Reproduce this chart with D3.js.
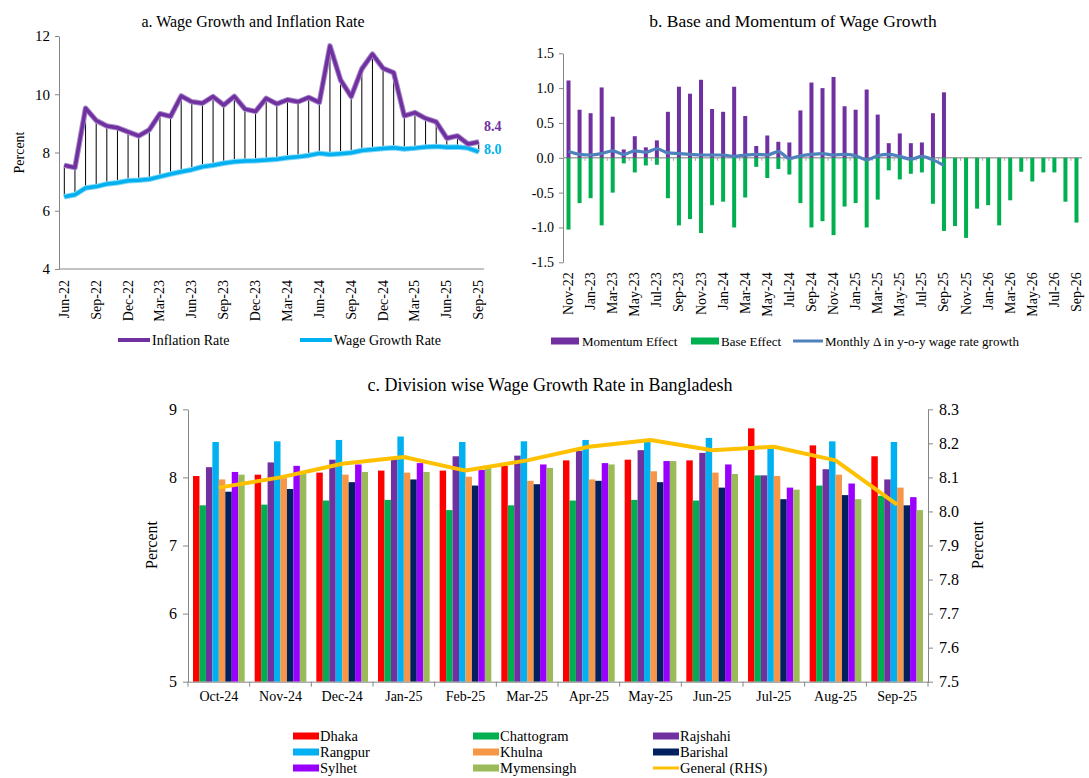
<!DOCTYPE html>
<html>
<head>
<meta charset="utf-8">
<script src="https://cdn.jsdelivr.net/npm/d3@7"></script>
<style>
  body { margin: 0; background: #fff; }
  svg text { font-family: "Liberation Serif", "Times New Roman", serif; fill: #000; }
</style>
</head>
<body>
<svg id="chart" width="1089" height="778"></svg>
<script>
// ---------- Panel a: wage growth vs inflation (Jun-22 .. Sep-25) ----------
const monthsA = ["Jun-22","Jul-22","Aug-22","Sep-22","Oct-22","Nov-22","Dec-22","Jan-23","Feb-23","Mar-23","Apr-23","May-23",
  "Jun-23","Jul-23","Aug-23","Sep-23","Oct-23","Nov-23","Dec-23","Jan-24","Feb-24","Mar-24","Apr-24","May-24",
  "Jun-24","Jul-24","Aug-24","Sep-24","Oct-24","Nov-24","Dec-24","Jan-25","Feb-25","Mar-25","Apr-25","May-25",
  "Jun-25","Jul-25","Aug-25","Sep-25"];
const inflation = [7.56,7.48,9.52,9.10,8.91,8.85,8.71,8.57,8.78,9.33,9.24,9.94,
  9.74,9.69,9.92,9.63,9.93,9.49,9.41,9.86,9.67,9.81,9.74,9.89,
  9.72,11.66,10.49,9.92,10.87,11.38,10.89,10.74,9.26,9.37,9.17,9.05,
  8.49,8.57,8.29,8.36];
const wageGrowth = [6.48,6.55,6.78,6.83,6.92,6.96,7.03,7.05,7.08,7.17,7.26,7.34,
  7.41,7.51,7.56,7.63,7.68,7.71,7.72,7.74,7.77,7.82,7.85,7.90,
  7.97,7.93,7.96,7.99,8.07,8.10,8.14,8.16,8.12,8.15,8.19,8.21,
  8.18,8.19,8.15,8.02];
const ticksA = [4,6,8,10,12];

// ---------- Panel b: base and momentum effects (Nov-22 .. Sep-26) ----------
const monthsB = ["Nov-22","Dec-22","Jan-23","Feb-23","Mar-23","Apr-23","May-23","Jun-23","Jul-23","Aug-23","Sep-23","Oct-23",
  "Nov-23","Dec-23","Jan-24","Feb-24","Mar-24","Apr-24","May-24","Jun-24","Jul-24","Aug-24","Sep-24","Oct-24",
  "Nov-24","Dec-24","Jan-25","Feb-25","Mar-25","Apr-25","May-25","Jun-25","Jul-25","Aug-25","Sep-25","Oct-25",
  "Nov-25","Dec-25","Jan-26","Feb-26","Mar-26","Apr-26","May-26","Jun-26","Jul-26","Aug-26","Sep-26"];
const momentum = [1.11,0.69,0.64,1.01,0.59,0.12,0.31,0.15,0.25,0.66,1.02,0.92,
  1.12,0.70,0.66,1.02,0.60,0.17,0.32,0.23,0.22,0.68,1.08,1.00,
  1.16,0.74,0.69,0.98,0.62,0.21,0.35,0.21,0.22,0.64,0.94,null,
  null,null,null,null,null,null,null,null,null,null,null];
const baseEffect = [-1.03,-0.65,-0.58,-0.97,-0.50,-0.08,-0.21,-0.11,-0.10,-0.58,-0.97,-0.88,
  -1.08,-0.68,-0.63,-1.00,-0.57,-0.13,-0.29,-0.16,-0.24,-0.65,-1.00,-0.91,
  -1.11,-0.70,-0.65,-1.00,-0.60,-0.18,-0.31,-0.23,-0.21,-0.66,-1.05,-0.98,
  -1.15,-0.73,-0.68,-0.97,-0.61,-0.20,-0.34,-0.21,-0.21,-0.63,-0.93];
const monthlyChange = [0.09,0.05,0.04,0.06,0.10,0.05,0.10,0.08,0.13,0.07,0.06,0.05,
  0.04,0.04,0.04,0.02,0.04,0.05,0.04,0.09,-0.01,0.03,0.05,0.06,
  0.04,0.05,0.03,-0.03,0.03,0.05,0.02,-0.02,0.02,-0.03,-0.11];
const ticksB = [-1.5,-1.0,-0.5,0.0,0.5,1.0,1.5];

// ---------- Panel c: division-wise wage growth (Oct-24 .. Sep-25) ----------
const monthsC = ["Oct-24","Nov-24","Dec-24","Jan-25","Feb-25","Mar-25","Apr-25","May-25","Jun-25","Jul-25","Aug-25","Sep-25"];
const divisions = ["Dhaka","Chattogram","Rajshahi","Rangpur","Khulna","Barishal","Sylhet","Mymensingh"];
const dhaka      = [8.02,8.04,8.07,8.10,8.10,8.17,8.25,8.26,8.25,8.72,8.47,8.31];
const chattogram = [7.59,7.60,7.66,7.67,7.52,7.59,7.66,7.67,7.66,8.03,7.88,7.73];
const rajshahi   = [8.15,8.22,8.26,8.28,8.31,8.32,8.39,8.40,8.36,8.03,8.12,7.97];
const rangpur    = [8.52,8.53,8.55,8.60,8.52,8.53,8.55,8.56,8.58,8.43,8.53,8.52];
const khulna     = [7.97,7.99,8.04,8.07,8.01,7.95,7.97,8.09,8.07,8.02,8.04,7.85];
const barishal   = [7.79,7.83,7.93,7.97,7.88,7.90,7.95,7.93,7.85,7.68,7.74,7.59];
const sylhet     = [8.08,8.17,8.19,8.21,8.11,8.19,8.21,8.24,8.19,7.85,7.91,7.71];
const mymensingh = [8.04,8.06,8.08,8.08,8.14,8.14,8.19,8.24,8.05,7.82,7.68,7.52];
const general    = [8.07,8.10,8.14,8.16,8.12,8.15,8.19,8.21,8.18,8.19,8.15,8.02];
const ticksCLeft = [5,6,7,8,9];
const ticksCRight = [7.5,7.6,7.7,7.8,7.9,8.0,8.1,8.2,8.3];

const divisionSeries = [dhaka, chattogram, rajshahi, rangpur, khulna, barishal, sylhet, mymensingh];
const divisionColors = ["#FF0000","#00B050","#7030A0","#00B0F0","#F79646","#002060","#9900FF","#9BBB59"];

const svg = d3.select("#chart");
const axisGray = "#868686";

function styleAxis(g) {
  g.selectAll("path, line").attr("stroke", axisGray);
  g.select(".domain").attr("stroke-width", 1);
}

// ===================== Panel a =====================
(function () {
  const x = d3.scaleBand().domain(monthsA).range([59, 484]);
  const y = d3.scaleLinear().domain([4, 12]).range([269, 36]);
  const cx = m => x(m) + x.bandwidth() / 2;
  const g = svg.append("g");

  g.append("text").attr("x", 253).attr("y", 27).attr("text-anchor", "middle")
    .style("font-size", "16px").text("a. Wage Growth and Inflation Rate");

  const yAxis = g.append("g").attr("transform", "translate(59,0)")
    .call(d3.axisLeft(y).tickValues(ticksA).tickSize(4).tickSizeOuter(0).tickFormat(d3.format("d")));
  styleAxis(yAxis);
  yAxis.selectAll("text").style("font-size", "15px").attr("dx", "-2");

  g.append("line").attr("x1", 59).attr("x2", 484).attr("y1", y(4)).attr("y2", y(4))
    .attr("stroke", axisGray);

  g.append("text").attr("transform", `translate(24,${y(8)}) rotate(-90)`)
    .attr("text-anchor", "middle").style("font-size", "14px").text("Percent");

  // rotated month labels every third month
  g.selectAll(".xl").data(monthsA.filter((d, i) => i % 3 === 0)).enter().append("text")
    .attr("transform", d => `translate(${cx(d) + 4.5},${y(4) + 11}) rotate(-90)`)
    .attr("text-anchor", "end").style("font-size", "14px").text(d => d);

  // drop lines between the two series
  g.selectAll(".drop").data(monthsA).enter().append("line")
    .attr("x1", d => cx(d)).attr("x2", d => cx(d))
    .attr("y1", (d, i) => y(inflation[i])).attr("y2", (d, i) => y(wageGrowth[i]))
    .attr("stroke", "#000").attr("stroke-width", 1);

  const line = d3.line().x((d, i) => cx(monthsA[i])).y(d => y(d));
  g.append("path").datum(wageGrowth).attr("d", line).attr("fill", "none")
    .attr("stroke", "#7fd6f7").attr("stroke-width", 5.5).attr("stroke-linejoin", "round");
  g.append("path").datum(wageGrowth).attr("d", line).attr("fill", "none")
    .attr("stroke", "#00B0F0").attr("stroke-width", 3.5).attr("stroke-linejoin", "round");
  g.append("path").datum(inflation).attr("d", line).attr("fill", "none")
    .attr("stroke", "#a98bc9").attr("stroke-width", 5.5).attr("stroke-linejoin", "round");
  g.append("path").datum(inflation).attr("d", line).attr("fill", "none")
    .attr("stroke", "#7030A0").attr("stroke-width", 3.5).attr("stroke-linejoin", "round");

  const last = monthsA.length - 1;
  g.append("text").attr("x", 484).attr("y", y(inflation[last]) - 11)
    .style("font-size", "14px").style("font-weight", "bold").style("fill", "#7030A0")
    .text(d3.format(".1f")(inflation[last]));
  g.append("text").attr("x", 484).attr("y", y(wageGrowth[last]) + 2)
    .style("font-size", "14px").style("font-weight", "bold").style("fill", "#00B0F0")
    .text(d3.format(".1f")(wageGrowth[last]));

  // legend
  const leg = [{ t: "Inflation Rate", c: "#7030A0", x: 118 }, { t: "Wage Growth Rate", c: "#00B0F0", x: 300 }];
  leg.forEach(l => {
    g.append("line").attr("x1", l.x).attr("x2", l.x + 32).attr("y1", 340).attr("y2", 340)
      .attr("stroke", l.c).attr("stroke-width", 4);
    g.append("text").attr("x", l.x + 34).attr("y", 345).style("font-size", "14px").text(l.t);
  });
})();

// ===================== Panel b =====================
(function () {
  const x = d3.scaleBand().domain(monthsB).range([563, 1082]);
  const y = d3.scaleLinear().domain([-1.5, 1.5]).range([262.3, 53.3]);
  const cx = m => x(m) + x.bandwidth() / 2;
  const g = svg.append("g");

  g.append("text").attr("x", 793).attr("y", 27).attr("text-anchor", "middle")
    .style("font-size", "17.5px").text("b. Base and Momentum of Wage Growth");

  const yAxis = g.append("g").attr("transform", "translate(563,0)")
    .call(d3.axisLeft(y).tickValues(ticksB).tickSize(4).tickSizeOuter(0).tickFormat(d3.format(".1f")));
  styleAxis(yAxis);
  yAxis.selectAll("text").style("font-size", "14px").attr("dx", "-2")
    .text(d => d3.format(".1f")(d).replace("−", "-"));

  // zero baseline with a tick after every second month
  g.append("line").attr("x1", 563).attr("x2", 1082).attr("y1", y(0)).attr("y2", y(0))
    .attr("stroke", "#a6a6a6").attr("stroke-width", 1.5);
  g.selectAll(".zt").data(monthsB.filter((d, i) => i % 2 === 1)).enter().append("line")
    .attr("x1", d => x(d) + x.bandwidth()).attr("x2", d => x(d) + x.bandwidth())
    .attr("y1", y(0)).attr("y2", y(0) + 3).attr("stroke", "#a6a6a6");

  const bw = 4;
  g.selectAll(".mom").data(monthsB.filter((d, i) => momentum[i] !== null)).enter().append("rect")
    .attr("x", d => cx(d) - bw / 2).attr("width", bw)
    .attr("y", d => y(momentum[monthsB.indexOf(d)])).attr("height", d => y(0) - y(momentum[monthsB.indexOf(d)]))
    .attr("fill", "#7030A0");
  g.selectAll(".base").data(monthsB).enter().append("rect")
    .attr("x", d => cx(d) - bw / 2).attr("width", bw)
    .attr("y", y(0)).attr("height", (d, i) => y(baseEffect[i]) - y(0))
    .attr("fill", "#00B050");

  const line = d3.line().x((d, i) => cx(monthsB[i])).y(d => y(d)).curve(d3.curveMonotoneX);
  g.append("path").datum(monthlyChange).attr("d", line).attr("fill", "none")
    .attr("stroke", "#4F81BD").attr("stroke-width", 3.2).attr("stroke-linejoin", "round");

  g.selectAll(".xl").data(monthsB.filter((d, i) => i % 2 === 0)).enter().append("text")
    .attr("transform", d => `translate(${cx(d) + 4.5},${y(-1.5) + 10}) rotate(-90)`)
    .attr("text-anchor", "end").style("font-size", "14px").text(d => d);

  // legend
  g.append("rect").attr("x", 551).attr("y", 337.5).attr("width", 28).attr("height", 7).attr("fill", "#7030A0");
  g.append("text").attr("x", 582).attr("y", 345.5).style("font-size", "13px").text("Momentum Effect");
  g.append("rect").attr("x", 691).attr("y", 337.5).attr("width", 28).attr("height", 7).attr("fill", "#00B050");
  g.append("text").attr("x", 721).attr("y", 345.5).style("font-size", "13px").text("Base Effect");
  g.append("line").attr("x1", 793).attr("x2", 823).attr("y1", 341).attr("y2", 341)
    .attr("stroke", "#4F81BD").attr("stroke-width", 3);
  g.append("text").attr("x", 825).attr("y", 345.5).style("font-size", "13px")
    .text("Monthly \u0394 in y-o-y wage rate growth");
})();

// ===================== Panel c =====================
(function () {
  const x = d3.scaleBand().domain(monthsC).range([188, 928]);
  const x1 = d3.scaleBand().domain(divisions).range([5, x.bandwidth() - 5]);
  const yL = d3.scaleLinear().domain([5, 9]).range([681.7, 409.3]);
  const yR = d3.scaleLinear().domain([7.5, 8.3]).range([681.7, 409.3]);
  const g = svg.append("g");

  g.append("text").attr("x", 550).attr("y", 391).attr("text-anchor", "middle")
    .style("font-size", "18px").text("c. Division wise Wage Growth Rate in Bangladesh");

  const yAxisL = g.append("g").attr("transform", "translate(188,0)")
    .call(d3.axisLeft(yL).tickValues(ticksCLeft).tickSize(5).tickSizeOuter(0).tickFormat(d3.format("d")));
  styleAxis(yAxisL);
  yAxisL.selectAll("text").style("font-size", "16px").attr("dx", "-3");

  const yAxisR = g.append("g").attr("transform", "translate(928,0)")
    .call(d3.axisRight(yR).tickValues(ticksCRight).tickSize(5).tickSizeOuter(0).tickFormat(d3.format(".1f")));
  styleAxis(yAxisR);
  yAxisR.selectAll("text").style("font-size", "16px").attr("dx", "3");

  g.append("text").attr("transform", `translate(157,545) rotate(-90)`)
    .attr("text-anchor", "middle").style("font-size", "16px").text("Percent");
  g.append("text").attr("transform", `translate(983,545) rotate(-90)`)
    .attr("text-anchor", "middle").style("font-size", "16px").text("Percent");

  // bars
  divisions.forEach((dv, k) => {
    g.selectAll(".b" + k).data(monthsC).enter().append("rect")
      .attr("x", d => x(d) + x1(dv)).attr("width", x1.bandwidth())
      .attr("y", (d, i) => yL(divisionSeries[k][i]))
      .attr("height", (d, i) => yL(5) - yL(divisionSeries[k][i]))
      .attr("fill", divisionColors[k]);
  });

  // category axis
  const xAxis = g.append("g").attr("transform", `translate(0,${yL(5)})`)
    .call(d3.axisBottom(x).tickSize(0).tickSizeOuter(0));
  styleAxis(xAxis);
  xAxis.selectAll("text").style("font-size", "14px").attr("dy", "1.15em");
  g.selectAll(".ct").data(monthsC.concat(["end"])).enter().append("line")
    .attr("x1", (d, i) => 188 + i * x.bandwidth()).attr("x2", (d, i) => 188 + i * x.bandwidth())
    .attr("y1", yL(5)).attr("y2", yL(5) + 5).attr("stroke", axisGray);

  // general rate on right axis
  const line = d3.line().x((d, i) => x(monthsC[i]) + x.bandwidth() / 2).y(d => yR(d));
  g.append("path").datum(general).attr("d", line).attr("fill", "none")
    .attr("stroke", "#FFC000").attr("stroke-width", 4).attr("stroke-linejoin", "round");

  // legend
  const legendItems = divisions.map((d, k) => ({ t: d, c: divisionColors[k], line: false }))
    .concat([{ t: "General (RHS)", c: "#FFC000", line: true }]);
  const colX = [293, 473, 653];
  const rowY = [736, 752, 768];
  legendItems.forEach((l, k) => {
    const cxp = colX[k % 3], cyp = rowY[Math.floor(k / 3)];
    if (l.line) {
      g.append("line").attr("x1", cxp).attr("x2", cxp + 26).attr("y1", cyp).attr("y2", cyp)
        .attr("stroke", l.c).attr("stroke-width", 3);
    } else {
      g.append("rect").attr("x", cxp).attr("y", cyp - 3.5).attr("width", 26).attr("height", 7).attr("fill", l.c);
    }
    g.append("text").attr("x", cxp + 27).attr("y", cyp + 5).style("font-size", "14.5px").text(l.t);
  });
})();
</script>
</body>
</html>
